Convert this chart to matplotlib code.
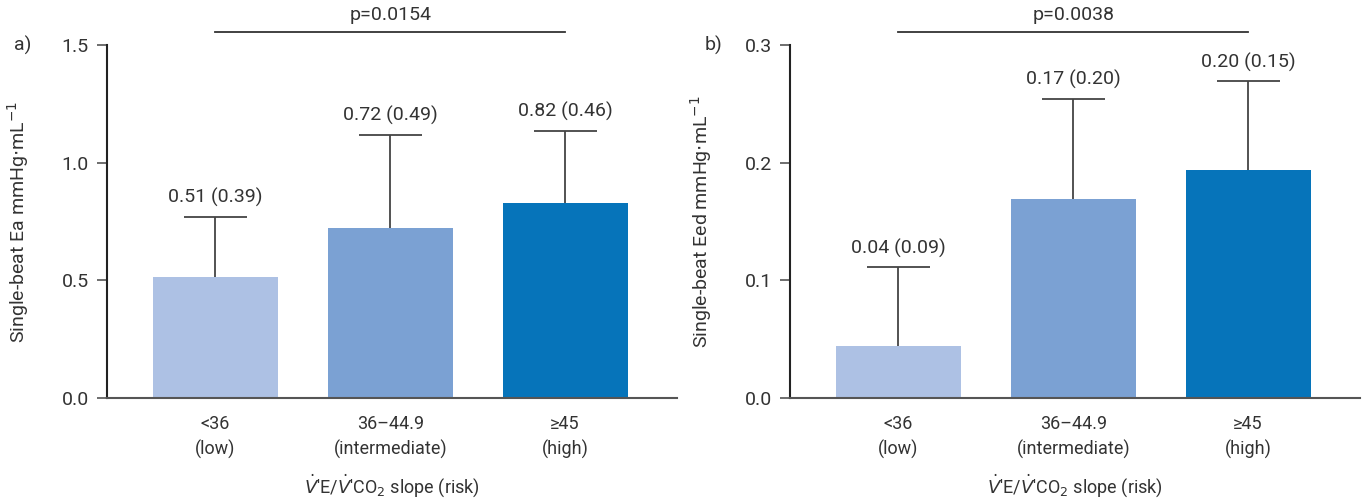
import matplotlib
matplotlib.use("Agg")
import matplotlib.pyplot as plt

plt.rcParams['font.family'] = ['Roboto', 'DejaVu Sans']

# categories shared by both panels
categories = ["<36\n(low)", "36\u201344.9\n(intermediate)", "\u226545\n(high)"]
colors = ["#adc1e4", "#7ba1d3", "#0674ba"]

# panel a: single-beat Ea
ea_mean = [0.514, 0.722, 0.829]
ea_err = [0.255, 0.396, 0.306]   # drawn (upper) error bar length
ea_labels = ["0.51 (0.39)", "0.72 (0.49)", "0.82 (0.46)"]
ea_p = "p=0.0154"

# panel b: single-beat Eed
eed_mean = [0.044, 0.169, 0.194]
eed_err = [0.067, 0.085, 0.075]
eed_labels = ["0.04 (0.09)", "0.17 (0.20)", "0.20 (0.15)"]
eed_p = "p=0.0038"

txt = "#333333"
axc = "#555555"

fig = plt.figure(figsize=(13.66, 5), dpi=100)
ax1 = fig.add_axes([0.0783, 0.204, 0.4173, 0.706])
ax2 = fig.add_axes([0.5783, 0.204, 0.4173, 0.706])


def panel(ax, mean, err, labels, ptext, ymax, ystep, ylabel, tag, tag_x):
    x = list(range(len(mean)))
    ax.bar(x, mean, width=0.714, color=colors, zorder=2)
    # upper-only error bars with a cap
    tops = [m + e for m, e in zip(mean, err)]
    ax.vlines(x, mean, tops, color="#444444", lw=1.3, zorder=3)
    ax.hlines(tops, [xi - 0.18 for xi in x], [xi + 0.18 for xi in x],
              color="#444444", lw=1.3, zorder=3)
    for xi, t, lab in zip(x, tops, labels):
        ax.annotate(lab, (xi, t), xytext=(0, 7), textcoords="offset points",
                    ha="center", va="bottom", fontsize=14, color=txt)
    ax.set_xlim(-0.62, 2.64)
    ax.set_ylim(0, ymax)
    ticks = [round(i * ystep, 2) for i in range(int(round(ymax / ystep)) + 1)]
    ax.set_yticks(ticks)
    ax.set_yticklabels([f"{t:.1f}" for t in ticks], fontsize=14, color=txt)
    ax.set_xticks(x)
    ax.set_xticklabels(categories, fontsize=13, color=txt, linespacing=1.5)
    ax.tick_params(axis="x", length=0, pad=12)
    ax.tick_params(axis="y", length=7, width=1.2, color=axc, pad=6)
    for s in ["top", "right"]:
        ax.spines[s].set_visible(False)
    ax.spines["left"].set_color("#222222")
    ax.spines["left"].set_linewidth(1.5)
    ax.spines["bottom"].set_color(axc)
    ax.spines["bottom"].set_linewidth(1.5)
    ax.set_ylabel(ylabel, fontsize=14, color=txt, labelpad=22)
    ax.set_xlabel(r"$\dot{V}$'E/$\dot{V}$'CO$_2$ slope (risk)", fontsize=13,
                  color=txt, labelpad=9)
    # significance bar
    ax.plot([0, 2], [ymax * 1.037, ymax * 1.037], color="#333333", lw=1.3, clip_on=False)
    ax.text(1, ymax * 1.085, ptext, ha="center", va="center", fontsize=14, color=txt)
    ax.text(tag_x, 1.0, tag, transform=ax.transAxes, ha="center", va="center",
            fontsize=14, color=txt)


panel(ax1, ea_mean, ea_err, ea_labels, ea_p, 1.5, 0.5,
      r"Single-beat Ea mmHg$\cdot$mL$^{-1}$", "a)", -0.148)
panel(ax2, eed_mean, eed_err, eed_labels, eed_p, 0.3, 0.1,
      r"Single-beat Eed mmHg$\cdot$mL$^{-1}$", "b)", -0.135)

fig.savefig("out.png", dpi=100)
